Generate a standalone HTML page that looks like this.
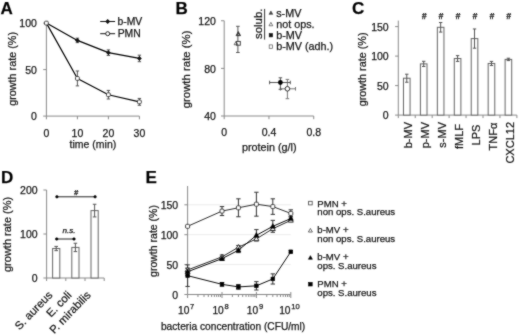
<!DOCTYPE html>
<html><head><meta charset="utf-8"><style>
html,body{margin:0;padding:0;background:#fff;}
body{width:520px;height:335px;overflow:hidden;}
svg{display:block;font-family:"Liberation Sans",sans-serif;}
text{stroke:#222;stroke-width:0.25px;}
</style></head><body>
<svg width="520" height="335" viewBox="0 0 520 335">
<defs><filter id="soft" x="0" y="0" width="1" height="1" color-interpolation-filters="sRGB"><feConvolveMatrix order="3" kernelMatrix="1 2 1 2 16 2 1 2 1" divisor="28" edgeMode="duplicate"/></filter></defs>
<g filter="url(#soft)">
<rect width="520" height="335" fill="#fff"/>
<text x="0.60" y="14.40" font-size="17" text-anchor="start" fill="#000" font-weight="bold">A</text>
<line x1="46.40" y1="23.10" x2="46.40" y2="116.10" stroke="#8a8a8a" stroke-width="1"/>
<line x1="46.40" y1="116.10" x2="139.40" y2="116.10" stroke="#8a8a8a" stroke-width="1"/>
<line x1="43.20" y1="116.10" x2="46.40" y2="116.10" stroke="#8a8a8a" stroke-width="1"/>
<text x="36.90" y="120.40" font-size="10.5" text-anchor="end" fill="#111">0</text>
<line x1="43.20" y1="69.60" x2="46.40" y2="69.60" stroke="#8a8a8a" stroke-width="1"/>
<text x="36.90" y="73.90" font-size="10.5" text-anchor="end" fill="#111">50</text>
<line x1="43.20" y1="23.10" x2="46.40" y2="23.10" stroke="#8a8a8a" stroke-width="1"/>
<text x="36.90" y="27.40" font-size="10.5" text-anchor="end" fill="#111">100</text>
<line x1="46.40" y1="116.10" x2="46.40" y2="119.30" stroke="#8a8a8a" stroke-width="1"/>
<text x="46.40" y="137.00" font-size="10.5" text-anchor="middle" fill="#111">0</text>
<line x1="77.40" y1="116.10" x2="77.40" y2="119.30" stroke="#8a8a8a" stroke-width="1"/>
<text x="77.40" y="137.00" font-size="10.5" text-anchor="middle" fill="#111">10</text>
<line x1="108.40" y1="116.10" x2="108.40" y2="119.30" stroke="#8a8a8a" stroke-width="1"/>
<text x="108.40" y="137.00" font-size="10.5" text-anchor="middle" fill="#111">20</text>
<line x1="139.40" y1="116.10" x2="139.40" y2="119.30" stroke="#8a8a8a" stroke-width="1"/>
<text x="139.40" y="137.00" font-size="10.5" text-anchor="middle" fill="#111">30</text>
<text x="92.90" y="148.30" font-size="10.5" text-anchor="middle" fill="#111">time (min)</text>
<text transform="translate(16.40,68.90) rotate(-90)" font-size="10.8" text-anchor="middle" fill="#111">growth rate (%)</text>
<polyline points="46.40,23.10 77.40,40.40 108.40,52.67 139.40,58.44" fill="none" stroke="#000" stroke-width="1.2" stroke-linejoin="round"/>
<polyline points="46.40,23.10 77.40,78.44 108.40,94.71 139.40,101.87" fill="none" stroke="#000" stroke-width="1.2" stroke-linejoin="round"/>
<line x1="77.40" y1="38.17" x2="77.40" y2="42.63" stroke="#555" stroke-width="1"/>
<line x1="75.70" y1="38.17" x2="79.10" y2="38.17" stroke="#555" stroke-width="1"/>
<line x1="75.70" y1="42.63" x2="79.10" y2="42.63" stroke="#555" stroke-width="1"/>
<line x1="108.40" y1="49.88" x2="108.40" y2="55.46" stroke="#555" stroke-width="1"/>
<line x1="106.70" y1="49.88" x2="110.10" y2="49.88" stroke="#555" stroke-width="1"/>
<line x1="106.70" y1="55.46" x2="110.10" y2="55.46" stroke="#555" stroke-width="1"/>
<line x1="139.40" y1="55.18" x2="139.40" y2="61.69" stroke="#555" stroke-width="1"/>
<line x1="137.70" y1="55.18" x2="141.10" y2="55.18" stroke="#555" stroke-width="1"/>
<line x1="137.70" y1="61.69" x2="141.10" y2="61.69" stroke="#555" stroke-width="1"/>
<line x1="77.40" y1="70.99" x2="77.40" y2="85.88" stroke="#555" stroke-width="1"/>
<line x1="75.70" y1="70.99" x2="79.10" y2="70.99" stroke="#555" stroke-width="1"/>
<line x1="75.70" y1="85.88" x2="79.10" y2="85.88" stroke="#555" stroke-width="1"/>
<line x1="108.40" y1="90.43" x2="108.40" y2="98.99" stroke="#555" stroke-width="1"/>
<line x1="106.70" y1="90.43" x2="110.10" y2="90.43" stroke="#555" stroke-width="1"/>
<line x1="106.70" y1="98.99" x2="110.10" y2="98.99" stroke="#555" stroke-width="1"/>
<line x1="139.40" y1="98.43" x2="139.40" y2="105.31" stroke="#555" stroke-width="1"/>
<line x1="137.70" y1="98.43" x2="141.10" y2="98.43" stroke="#555" stroke-width="1"/>
<line x1="137.70" y1="105.31" x2="141.10" y2="105.31" stroke="#555" stroke-width="1"/>
<polygon points="77.40,38.00 79.80,40.40 77.40,42.80 75.00,40.40" fill="#111"/>
<polygon points="108.40,50.27 110.80,52.67 108.40,55.07 106.00,52.67" fill="#111"/>
<polygon points="139.40,56.04 141.80,58.44 139.40,60.84 137.00,58.44" fill="#111"/>
<rect x="44.50" y="21.20" width="3.8" height="3.8" rx="1.0" fill="#fff" stroke="#333" stroke-width="0.9"/>
<rect x="75.50" y="76.53" width="3.8" height="3.8" rx="1.0" fill="#fff" stroke="#333" stroke-width="0.9"/>
<rect x="106.50" y="92.81" width="3.8" height="3.8" rx="1.0" fill="#fff" stroke="#333" stroke-width="0.9"/>
<rect x="137.50" y="99.97" width="3.8" height="3.8" rx="1.0" fill="#fff" stroke="#333" stroke-width="0.9"/>
<line x1="100.20" y1="21.50" x2="115.10" y2="21.50" stroke="#111" stroke-width="1.0"/>
<polygon points="107.70,19.00 110.20,21.50 107.70,24.00 105.20,21.50" fill="#111"/>
<line x1="100.20" y1="33.70" x2="115.10" y2="33.70" stroke="#111" stroke-width="1.0"/>
<circle cx="107.70" cy="33.70" r="2.0" fill="#fff" stroke="#222" stroke-width="1"/>
<text x="117.40" y="25.00" font-size="10.4" text-anchor="start" fill="#111">b-MV</text>
<text x="117.70" y="37.40" font-size="10.4" text-anchor="start" fill="#111">PMN</text>
<text x="175.60" y="14.30" font-size="17" text-anchor="start" fill="#000" font-weight="bold">B</text>
<line x1="224.20" y1="20.75" x2="224.20" y2="116.00" stroke="#8a8a8a" stroke-width="1"/>
<line x1="224.20" y1="116.00" x2="313.72" y2="116.00" stroke="#8a8a8a" stroke-width="1"/>
<line x1="221.00" y1="116.00" x2="224.20" y2="116.00" stroke="#8a8a8a" stroke-width="1"/>
<text x="215.90" y="120.30" font-size="10.5" text-anchor="end" fill="#111">40</text>
<line x1="221.00" y1="68.38" x2="224.20" y2="68.38" stroke="#8a8a8a" stroke-width="1"/>
<text x="215.90" y="72.68" font-size="10.5" text-anchor="end" fill="#111">80</text>
<line x1="221.00" y1="20.75" x2="224.20" y2="20.75" stroke="#8a8a8a" stroke-width="1"/>
<text x="215.90" y="25.05" font-size="10.5" text-anchor="end" fill="#111">120</text>
<line x1="224.20" y1="116.00" x2="224.20" y2="119.20" stroke="#8a8a8a" stroke-width="1"/>
<text x="224.20" y="136.40" font-size="10.5" text-anchor="middle" fill="#111">0</text>
<line x1="268.96" y1="116.00" x2="268.96" y2="119.20" stroke="#8a8a8a" stroke-width="1"/>
<text x="268.96" y="136.40" font-size="10.5" text-anchor="middle" fill="#111">0.4</text>
<line x1="313.72" y1="116.00" x2="313.72" y2="119.20" stroke="#8a8a8a" stroke-width="1"/>
<text x="313.72" y="136.40" font-size="10.5" text-anchor="middle" fill="#111">0.8</text>
<text x="269.20" y="150.60" font-size="10.8" text-anchor="middle" fill="#111">protein (g/l)</text>
<text transform="translate(190.40,69.40) rotate(-90)" font-size="11.4" text-anchor="middle" fill="#111">growth rate (%)</text>
<line x1="237.90" y1="26.30" x2="237.90" y2="52.50" stroke="#555" stroke-width="1"/>
<line x1="236.10" y1="26.30" x2="239.70" y2="26.30" stroke="#555" stroke-width="1"/>
<line x1="236.10" y1="52.50" x2="239.70" y2="52.50" stroke="#555" stroke-width="1"/>
<polygon points="238.30,31.52 240.60,35.66 236.00,35.66" fill="#333" stroke="#333" stroke-width="0.8"/>
<polygon points="238.30,33.70 238.95,34.87 237.65,34.87" fill="#fff" stroke="none" stroke-width="1"/>
<rect x="236.50" y="41.40" width="3.8" height="3.8" fill="#fff" stroke="#333" stroke-width="0.9"/>
<polygon points="236.00,41.35 237.90,44.77 234.10,44.77" fill="none" stroke="#444" stroke-width="0.8"/>
<line x1="280.40" y1="88.80" x2="295.50" y2="88.80" stroke="#777" stroke-width="1"/>
<line x1="280.40" y1="87.00" x2="280.40" y2="90.60" stroke="#777" stroke-width="1"/>
<line x1="295.50" y1="87.00" x2="295.50" y2="90.60" stroke="#777" stroke-width="1"/>
<line x1="287.40" y1="79.40" x2="287.40" y2="98.70" stroke="#777" stroke-width="1"/>
<line x1="285.60" y1="79.40" x2="289.20" y2="79.40" stroke="#777" stroke-width="1"/>
<line x1="285.60" y1="98.70" x2="289.20" y2="98.70" stroke="#777" stroke-width="1"/>
<line x1="269.60" y1="82.50" x2="290.30" y2="82.50" stroke="#555" stroke-width="1"/>
<line x1="269.60" y1="80.70" x2="269.60" y2="84.30" stroke="#555" stroke-width="1"/>
<line x1="290.30" y1="80.70" x2="290.30" y2="84.30" stroke="#555" stroke-width="1"/>
<line x1="280.40" y1="77.80" x2="280.40" y2="89.30" stroke="#555" stroke-width="1"/>
<line x1="278.60" y1="77.80" x2="282.20" y2="77.80" stroke="#555" stroke-width="1"/>
<line x1="278.60" y1="89.30" x2="282.20" y2="89.30" stroke="#555" stroke-width="1"/>
<circle cx="287.40" cy="88.80" r="2.3" fill="#fff" stroke="#333" stroke-width="1"/>
<circle cx="280.40" cy="82.50" r="2.4" fill="#000" stroke="none" stroke-width="1"/>
<text transform="translate(262.40,23.80) rotate(-90)" font-size="11.4" text-anchor="middle" fill="#111">solub.</text>
<line x1="264.60" y1="8.90" x2="264.60" y2="39.60" stroke="#333" stroke-width="1"/>
<polygon points="270.90,10.95 272.80,14.37 269.00,14.37" fill="#444" stroke="#444" stroke-width="0.6"/>
<polygon points="270.90,22.35 272.80,25.77 269.00,25.77" fill="#fff" stroke="#444" stroke-width="0.7"/>
<rect x="269.20" y="33.50" width="3.4" height="3.4" fill="#111" stroke="#111" stroke-width="0.6"/>
<rect x="269.20" y="44.90" width="3.4" height="3.4" fill="#fff" stroke="#555" stroke-width="0.7"/>
<text x="276.20" y="17.00" font-size="10.8" text-anchor="start" fill="#111">s-MV</text>
<text x="276.20" y="28.10" font-size="10.8" text-anchor="start" fill="#111">not ops.</text>
<text x="276.20" y="39.20" font-size="10.8" text-anchor="start" fill="#111">b-MV</text>
<text x="276.20" y="50.30" font-size="10.8" text-anchor="start" fill="#111">b-MV (adh.)</text>
<text x="352.00" y="14.40" font-size="17" text-anchor="start" fill="#000" font-weight="bold">C</text>
<line x1="398.30" y1="20.60" x2="398.30" y2="115.10" stroke="#8a8a8a" stroke-width="1"/>
<line x1="398.30" y1="115.10" x2="516.88" y2="115.10" stroke="#8a8a8a" stroke-width="1"/>
<line x1="395.10" y1="115.10" x2="398.30" y2="115.10" stroke="#8a8a8a" stroke-width="1"/>
<text x="388.70" y="119.40" font-size="10.5" text-anchor="end" fill="#111">0</text>
<line x1="395.10" y1="85.60" x2="398.30" y2="85.60" stroke="#8a8a8a" stroke-width="1"/>
<text x="388.70" y="89.90" font-size="10.5" text-anchor="end" fill="#111">50</text>
<line x1="395.10" y1="56.10" x2="398.30" y2="56.10" stroke="#8a8a8a" stroke-width="1"/>
<text x="388.70" y="60.40" font-size="10.5" text-anchor="end" fill="#111">100</text>
<line x1="395.10" y1="26.60" x2="398.30" y2="26.60" stroke="#8a8a8a" stroke-width="1"/>
<text x="388.70" y="30.90" font-size="10.5" text-anchor="end" fill="#111">150</text>
<line x1="398.30" y1="115.10" x2="398.30" y2="118.10" stroke="#8a8a8a" stroke-width="1"/>
<line x1="415.24" y1="115.10" x2="415.24" y2="118.10" stroke="#8a8a8a" stroke-width="1"/>
<line x1="432.18" y1="115.10" x2="432.18" y2="118.10" stroke="#8a8a8a" stroke-width="1"/>
<line x1="449.12" y1="115.10" x2="449.12" y2="118.10" stroke="#8a8a8a" stroke-width="1"/>
<line x1="466.06" y1="115.10" x2="466.06" y2="118.10" stroke="#8a8a8a" stroke-width="1"/>
<line x1="483.00" y1="115.10" x2="483.00" y2="118.10" stroke="#8a8a8a" stroke-width="1"/>
<line x1="499.94" y1="115.10" x2="499.94" y2="118.10" stroke="#8a8a8a" stroke-width="1"/>
<line x1="516.88" y1="115.10" x2="516.88" y2="118.10" stroke="#8a8a8a" stroke-width="1"/>
<text transform="translate(365.80,69.40) rotate(-90)" font-size="10.8" text-anchor="middle" fill="#111">growth rate (%)</text>
<rect x="403.47" y="78.22" width="6.6" height="36.88" fill="#fff" stroke="#666" stroke-width="1"/>
<line x1="406.77" y1="74.21" x2="406.77" y2="82.24" stroke="#555" stroke-width="1"/>
<line x1="405.07" y1="74.21" x2="408.47" y2="74.21" stroke="#555" stroke-width="1"/>
<line x1="405.07" y1="82.24" x2="408.47" y2="82.24" stroke="#555" stroke-width="1"/>
<text transform="translate(412.07,122.00) rotate(-90)" font-size="11" text-anchor="end" fill="#111">b-MV</text>
<rect x="420.41" y="63.89" width="6.6" height="51.21" fill="#fff" stroke="#666" stroke-width="1"/>
<line x1="423.71" y1="61.29" x2="423.71" y2="66.48" stroke="#555" stroke-width="1"/>
<line x1="422.01" y1="61.29" x2="425.41" y2="61.29" stroke="#555" stroke-width="1"/>
<line x1="422.01" y1="66.48" x2="425.41" y2="66.48" stroke="#555" stroke-width="1"/>
<text transform="translate(429.01,122.00) rotate(-90)" font-size="11" text-anchor="end" fill="#111">p-MV</text>
<text x="424.01" y="18.90" font-size="8.5" text-anchor="middle" fill="#111" font-weight="bold" font-style="italic">#</text>
<rect x="437.35" y="27.31" width="6.6" height="87.79" fill="#fff" stroke="#666" stroke-width="1"/>
<line x1="440.65" y1="22.53" x2="440.65" y2="32.09" stroke="#555" stroke-width="1"/>
<line x1="438.95" y1="22.53" x2="442.35" y2="22.53" stroke="#555" stroke-width="1"/>
<line x1="438.95" y1="32.09" x2="442.35" y2="32.09" stroke="#555" stroke-width="1"/>
<text transform="translate(445.95,122.00) rotate(-90)" font-size="11" text-anchor="end" fill="#111">s-MV</text>
<text x="440.95" y="18.90" font-size="8.5" text-anchor="middle" fill="#111" font-weight="bold" font-style="italic">#</text>
<rect x="454.29" y="58.52" width="6.6" height="56.58" fill="#fff" stroke="#666" stroke-width="1"/>
<line x1="457.59" y1="55.63" x2="457.59" y2="61.41" stroke="#555" stroke-width="1"/>
<line x1="455.89" y1="55.63" x2="459.29" y2="55.63" stroke="#555" stroke-width="1"/>
<line x1="455.89" y1="61.41" x2="459.29" y2="61.41" stroke="#555" stroke-width="1"/>
<text transform="translate(462.89,124.00) rotate(-90)" font-size="11" text-anchor="end" fill="#111">fMLF</text>
<text x="457.89" y="18.90" font-size="8.5" text-anchor="middle" fill="#111" font-weight="bold" font-style="italic">#</text>
<rect x="471.23" y="38.58" width="6.6" height="76.52" fill="#fff" stroke="#666" stroke-width="1"/>
<line x1="474.53" y1="28.96" x2="474.53" y2="48.19" stroke="#555" stroke-width="1"/>
<line x1="472.83" y1="28.96" x2="476.23" y2="28.96" stroke="#555" stroke-width="1"/>
<line x1="472.83" y1="48.19" x2="476.23" y2="48.19" stroke="#555" stroke-width="1"/>
<text transform="translate(479.83,124.60) rotate(-90)" font-size="11" text-anchor="end" fill="#111">LPS</text>
<text x="474.83" y="18.90" font-size="8.5" text-anchor="middle" fill="#111" font-weight="bold" font-style="italic">#</text>
<rect x="488.17" y="63.47" width="6.6" height="51.62" fill="#fff" stroke="#666" stroke-width="1"/>
<line x1="491.47" y1="61.41" x2="491.47" y2="65.54" stroke="#555" stroke-width="1"/>
<line x1="489.77" y1="61.41" x2="493.17" y2="61.41" stroke="#555" stroke-width="1"/>
<line x1="489.77" y1="65.54" x2="493.17" y2="65.54" stroke="#555" stroke-width="1"/>
<text transform="translate(496.77,122.70) rotate(-90)" font-size="11" text-anchor="end" fill="#111">TNFα</text>
<text x="491.77" y="18.90" font-size="8.5" text-anchor="middle" fill="#111" font-weight="bold" font-style="italic">#</text>
<rect x="505.11" y="59.40" width="6.6" height="55.70" fill="#fff" stroke="#666" stroke-width="1"/>
<line x1="508.41" y1="58.22" x2="508.41" y2="60.58" stroke="#555" stroke-width="1"/>
<line x1="506.71" y1="58.22" x2="510.11" y2="58.22" stroke="#555" stroke-width="1"/>
<line x1="506.71" y1="60.58" x2="510.11" y2="60.58" stroke="#555" stroke-width="1"/>
<text transform="translate(513.71,122.00) rotate(-90)" font-size="11" text-anchor="end" fill="#111">CXCL12</text>
<text x="508.71" y="18.90" font-size="8.5" text-anchor="middle" fill="#111" font-weight="bold" font-style="italic">#</text>
<text x="1.00" y="182.70" font-size="17" text-anchor="start" fill="#000" font-weight="bold">D</text>
<line x1="46.60" y1="190.00" x2="46.60" y2="278.00" stroke="#8a8a8a" stroke-width="1"/>
<line x1="46.60" y1="278.00" x2="104.20" y2="278.00" stroke="#8a8a8a" stroke-width="1"/>
<line x1="43.40" y1="278.00" x2="46.60" y2="278.00" stroke="#8a8a8a" stroke-width="1"/>
<text x="37.60" y="282.30" font-size="10.5" text-anchor="end" fill="#111">0</text>
<line x1="43.40" y1="234.00" x2="46.60" y2="234.00" stroke="#8a8a8a" stroke-width="1"/>
<text x="37.60" y="238.30" font-size="10.5" text-anchor="end" fill="#111">100</text>
<line x1="43.40" y1="190.00" x2="46.60" y2="190.00" stroke="#8a8a8a" stroke-width="1"/>
<text x="37.60" y="194.30" font-size="10.5" text-anchor="end" fill="#111">200</text>
<line x1="46.60" y1="278.00" x2="46.60" y2="281.00" stroke="#8a8a8a" stroke-width="1"/>
<line x1="65.80" y1="278.00" x2="65.80" y2="281.00" stroke="#8a8a8a" stroke-width="1"/>
<line x1="85.00" y1="278.00" x2="85.00" y2="281.00" stroke="#8a8a8a" stroke-width="1"/>
<line x1="104.20" y1="278.00" x2="104.20" y2="281.00" stroke="#8a8a8a" stroke-width="1"/>
<text transform="translate(11.40,234.40) rotate(-90)" font-size="11.0" text-anchor="middle" fill="#111">growth rate (%)</text>
<rect x="52.60" y="248.52" width="7.2" height="29.48" fill="#fff" stroke="#666" stroke-width="1"/>
<line x1="56.20" y1="246.41" x2="56.20" y2="250.63" stroke="#555" stroke-width="1"/>
<line x1="54.40" y1="246.41" x2="58.00" y2="246.41" stroke="#555" stroke-width="1"/>
<line x1="54.40" y1="250.63" x2="58.00" y2="250.63" stroke="#555" stroke-width="1"/>
<text transform="translate(53.10,295.60) rotate(-46)" font-size="11.3" text-anchor="end" fill="#111">S. aureus</text>
<rect x="71.80" y="247.42" width="7.2" height="30.58" fill="#fff" stroke="#666" stroke-width="1"/>
<line x1="75.40" y1="243.24" x2="75.40" y2="251.60" stroke="#555" stroke-width="1"/>
<line x1="73.60" y1="243.24" x2="77.20" y2="243.24" stroke="#555" stroke-width="1"/>
<line x1="73.60" y1="251.60" x2="77.20" y2="251.60" stroke="#555" stroke-width="1"/>
<text transform="translate(72.30,295.60) rotate(-46)" font-size="11.3" text-anchor="end" fill="#111">E. coli</text>
<rect x="91.00" y="210.59" width="7.2" height="67.41" fill="#fff" stroke="#666" stroke-width="1"/>
<line x1="94.60" y1="204.26" x2="94.60" y2="216.93" stroke="#555" stroke-width="1"/>
<line x1="92.80" y1="204.26" x2="96.40" y2="204.26" stroke="#555" stroke-width="1"/>
<line x1="92.80" y1="216.93" x2="96.40" y2="216.93" stroke="#555" stroke-width="1"/>
<text transform="translate(91.50,295.60) rotate(-46)" font-size="11.3" text-anchor="end" fill="#111">P. mirabilis</text>
<line x1="56.90" y1="196.80" x2="95.10" y2="196.80" stroke="#222" stroke-width="1.0"/>
<circle cx="56.90" cy="196.80" r="1.3" fill="#000" stroke="#000" stroke-width="0.5"/>
<circle cx="95.10" cy="196.80" r="1.3" fill="#000" stroke="#000" stroke-width="0.5"/>
<text x="76.00" y="194.60" font-size="7.5" text-anchor="middle" fill="#111" font-weight="bold" font-style="italic">#</text>
<line x1="56.70" y1="239.00" x2="74.00" y2="239.00" stroke="#222" stroke-width="1.0"/>
<circle cx="56.70" cy="239.00" r="1.3" fill="#000" stroke="#000" stroke-width="0.5"/>
<circle cx="74.00" cy="239.00" r="1.3" fill="#000" stroke="#000" stroke-width="0.5"/>
<text x="68.90" y="232.50" font-size="8.1" text-anchor="middle" fill="#000" font-style="italic">n.s.</text>
<text x="145.60" y="182.50" font-size="17" text-anchor="start" fill="#000" font-weight="bold">E</text>
<line x1="187.60" y1="264.60" x2="290.80" y2="264.60" stroke="#ececec" stroke-width="1"/>
<line x1="187.60" y1="234.70" x2="290.80" y2="234.70" stroke="#ececec" stroke-width="1"/>
<line x1="187.60" y1="204.80" x2="290.80" y2="204.80" stroke="#ececec" stroke-width="1"/>
<line x1="187.60" y1="186.00" x2="187.60" y2="294.50" stroke="#8a8a8a" stroke-width="1"/>
<line x1="187.60" y1="294.50" x2="290.80" y2="294.50" stroke="#8a8a8a" stroke-width="1"/>
<line x1="184.40" y1="294.50" x2="187.60" y2="294.50" stroke="#8a8a8a" stroke-width="1"/>
<text x="178.20" y="299.00" font-size="10.5" text-anchor="end" fill="#111">0</text>
<line x1="184.40" y1="264.60" x2="187.60" y2="264.60" stroke="#8a8a8a" stroke-width="1"/>
<text x="178.20" y="269.10" font-size="10.5" text-anchor="end" fill="#111">50</text>
<line x1="184.40" y1="234.70" x2="187.60" y2="234.70" stroke="#8a8a8a" stroke-width="1"/>
<text x="178.20" y="239.20" font-size="10.5" text-anchor="end" fill="#111">100</text>
<line x1="184.40" y1="204.80" x2="187.60" y2="204.80" stroke="#8a8a8a" stroke-width="1"/>
<text x="178.20" y="209.30" font-size="10.5" text-anchor="end" fill="#111">150</text>
<line x1="187.60" y1="294.50" x2="187.60" y2="298.00" stroke="#8a8a8a" stroke-width="1"/>
<line x1="197.96" y1="294.50" x2="197.96" y2="297.00" stroke="#8a8a8a" stroke-width="1"/>
<line x1="204.01" y1="294.50" x2="204.01" y2="297.00" stroke="#8a8a8a" stroke-width="1"/>
<line x1="208.31" y1="294.50" x2="208.31" y2="297.00" stroke="#8a8a8a" stroke-width="1"/>
<line x1="211.64" y1="294.50" x2="211.64" y2="297.00" stroke="#8a8a8a" stroke-width="1"/>
<line x1="214.37" y1="294.50" x2="214.37" y2="297.00" stroke="#8a8a8a" stroke-width="1"/>
<line x1="216.67" y1="294.50" x2="216.67" y2="297.00" stroke="#8a8a8a" stroke-width="1"/>
<line x1="218.67" y1="294.50" x2="218.67" y2="297.00" stroke="#8a8a8a" stroke-width="1"/>
<line x1="220.43" y1="294.50" x2="220.43" y2="297.00" stroke="#8a8a8a" stroke-width="1"/>
<text x="186.20" y="314.0" font-size="10.2" text-anchor="middle" fill="#111">10<tspan font-size="7.6" dx="0.7" dy="-4.6">7</tspan></text>
<line x1="222.00" y1="292.00" x2="222.00" y2="298.00" stroke="#8a8a8a" stroke-width="1"/>
<line x1="232.36" y1="294.50" x2="232.36" y2="297.00" stroke="#8a8a8a" stroke-width="1"/>
<line x1="238.41" y1="294.50" x2="238.41" y2="297.00" stroke="#8a8a8a" stroke-width="1"/>
<line x1="242.71" y1="294.50" x2="242.71" y2="297.00" stroke="#8a8a8a" stroke-width="1"/>
<line x1="246.04" y1="294.50" x2="246.04" y2="297.00" stroke="#8a8a8a" stroke-width="1"/>
<line x1="248.77" y1="294.50" x2="248.77" y2="297.00" stroke="#8a8a8a" stroke-width="1"/>
<line x1="251.07" y1="294.50" x2="251.07" y2="297.00" stroke="#8a8a8a" stroke-width="1"/>
<line x1="253.07" y1="294.50" x2="253.07" y2="297.00" stroke="#8a8a8a" stroke-width="1"/>
<line x1="254.83" y1="294.50" x2="254.83" y2="297.00" stroke="#8a8a8a" stroke-width="1"/>
<text x="220.60" y="314.0" font-size="10.2" text-anchor="middle" fill="#111">10<tspan font-size="7.6" dx="0.7" dy="-4.6">8</tspan></text>
<line x1="256.40" y1="292.00" x2="256.40" y2="298.00" stroke="#8a8a8a" stroke-width="1"/>
<line x1="266.76" y1="294.50" x2="266.76" y2="297.00" stroke="#8a8a8a" stroke-width="1"/>
<line x1="272.81" y1="294.50" x2="272.81" y2="297.00" stroke="#8a8a8a" stroke-width="1"/>
<line x1="277.11" y1="294.50" x2="277.11" y2="297.00" stroke="#8a8a8a" stroke-width="1"/>
<line x1="280.44" y1="294.50" x2="280.44" y2="297.00" stroke="#8a8a8a" stroke-width="1"/>
<line x1="283.17" y1="294.50" x2="283.17" y2="297.00" stroke="#8a8a8a" stroke-width="1"/>
<line x1="285.47" y1="294.50" x2="285.47" y2="297.00" stroke="#8a8a8a" stroke-width="1"/>
<line x1="287.47" y1="294.50" x2="287.47" y2="297.00" stroke="#8a8a8a" stroke-width="1"/>
<line x1="289.23" y1="294.50" x2="289.23" y2="297.00" stroke="#8a8a8a" stroke-width="1"/>
<text x="255.00" y="314.0" font-size="10.2" text-anchor="middle" fill="#111">10<tspan font-size="7.6" dx="0.7" dy="-4.6">9</tspan></text>
<line x1="290.80" y1="292.00" x2="290.80" y2="298.00" stroke="#8a8a8a" stroke-width="1"/>
<text x="289.40" y="314.0" font-size="10.2" text-anchor="middle" fill="#111">10<tspan font-size="7.6" dx="0.7" dy="-4.6">10</tspan></text>
<text x="160.90" y="329.60" font-size="10.2" text-anchor="start" fill="#111">bacteria concentration (CFU/ml)</text>
<text transform="translate(157.30,241.00) rotate(-90)" font-size="10.5" text-anchor="middle" fill="#111">growth rate (%)</text>
<polyline points="187.60,226.33 222.00,211.08 238.41,207.79 256.40,204.20 272.81,206.59 290.80,213.41" fill="none" stroke="#222" stroke-width="0.95" stroke-linejoin="round"/>
<polyline points="187.60,269.98 222.00,256.83 238.41,247.26 256.40,238.89 272.81,228.72 290.80,220.35" fill="none" stroke="#222" stroke-width="0.95" stroke-linejoin="round"/>
<polyline points="187.60,271.78 222.00,258.62 238.41,250.25 256.40,235.30 272.81,226.33 290.80,218.55" fill="none" stroke="#000" stroke-width="0.95" stroke-linejoin="round"/>
<polyline points="187.60,275.66 222.00,284.33 238.41,286.91 256.40,285.83 272.81,278.95 290.80,251.74" fill="none" stroke="#000" stroke-width="0.95" stroke-linejoin="round"/>
<line x1="187.60" y1="225.43" x2="187.60" y2="227.23" stroke="#333" stroke-width="1"/>
<line x1="185.40" y1="225.43" x2="189.80" y2="225.43" stroke="#333" stroke-width="1"/>
<line x1="185.40" y1="227.23" x2="189.80" y2="227.23" stroke="#333" stroke-width="1"/>
<line x1="222.00" y1="206.59" x2="222.00" y2="215.56" stroke="#333" stroke-width="1"/>
<line x1="219.80" y1="206.59" x2="224.20" y2="206.59" stroke="#333" stroke-width="1"/>
<line x1="219.80" y1="215.56" x2="224.20" y2="215.56" stroke="#333" stroke-width="1"/>
<line x1="238.41" y1="198.82" x2="238.41" y2="216.76" stroke="#333" stroke-width="1"/>
<line x1="236.21" y1="198.82" x2="240.61" y2="198.82" stroke="#333" stroke-width="1"/>
<line x1="236.21" y1="216.76" x2="240.61" y2="216.76" stroke="#333" stroke-width="1"/>
<line x1="256.40" y1="192.24" x2="256.40" y2="216.16" stroke="#333" stroke-width="1"/>
<line x1="254.20" y1="192.24" x2="258.60" y2="192.24" stroke="#333" stroke-width="1"/>
<line x1="254.20" y1="216.16" x2="258.60" y2="216.16" stroke="#333" stroke-width="1"/>
<line x1="272.81" y1="198.82" x2="272.81" y2="214.37" stroke="#333" stroke-width="1"/>
<line x1="270.61" y1="198.82" x2="275.01" y2="198.82" stroke="#333" stroke-width="1"/>
<line x1="270.61" y1="214.37" x2="275.01" y2="214.37" stroke="#333" stroke-width="1"/>
<line x1="290.80" y1="209.82" x2="290.80" y2="217.00" stroke="#333" stroke-width="1"/>
<line x1="288.60" y1="209.82" x2="293.00" y2="209.82" stroke="#333" stroke-width="1"/>
<line x1="288.60" y1="217.00" x2="293.00" y2="217.00" stroke="#333" stroke-width="1"/>
<line x1="187.60" y1="268.19" x2="187.60" y2="271.78" stroke="#333" stroke-width="1"/>
<line x1="185.40" y1="268.19" x2="189.80" y2="268.19" stroke="#333" stroke-width="1"/>
<line x1="185.40" y1="271.78" x2="189.80" y2="271.78" stroke="#333" stroke-width="1"/>
<line x1="222.00" y1="255.03" x2="222.00" y2="258.62" stroke="#333" stroke-width="1"/>
<line x1="219.80" y1="255.03" x2="224.20" y2="255.03" stroke="#333" stroke-width="1"/>
<line x1="219.80" y1="258.62" x2="224.20" y2="258.62" stroke="#333" stroke-width="1"/>
<line x1="238.41" y1="245.46" x2="238.41" y2="249.05" stroke="#333" stroke-width="1"/>
<line x1="236.21" y1="245.46" x2="240.61" y2="245.46" stroke="#333" stroke-width="1"/>
<line x1="236.21" y1="249.05" x2="240.61" y2="249.05" stroke="#333" stroke-width="1"/>
<line x1="256.40" y1="237.69" x2="256.40" y2="240.08" stroke="#333" stroke-width="1"/>
<line x1="254.20" y1="237.69" x2="258.60" y2="237.69" stroke="#333" stroke-width="1"/>
<line x1="254.20" y1="240.08" x2="258.60" y2="240.08" stroke="#333" stroke-width="1"/>
<line x1="272.81" y1="226.93" x2="272.81" y2="230.51" stroke="#333" stroke-width="1"/>
<line x1="270.61" y1="226.93" x2="275.01" y2="226.93" stroke="#333" stroke-width="1"/>
<line x1="270.61" y1="230.51" x2="275.01" y2="230.51" stroke="#333" stroke-width="1"/>
<line x1="290.80" y1="219.15" x2="290.80" y2="221.54" stroke="#333" stroke-width="1"/>
<line x1="288.60" y1="219.15" x2="293.00" y2="219.15" stroke="#333" stroke-width="1"/>
<line x1="288.60" y1="221.54" x2="293.00" y2="221.54" stroke="#333" stroke-width="1"/>
<line x1="187.60" y1="268.19" x2="187.60" y2="275.36" stroke="#333" stroke-width="1"/>
<line x1="185.40" y1="268.19" x2="189.80" y2="268.19" stroke="#333" stroke-width="1"/>
<line x1="185.40" y1="275.36" x2="189.80" y2="275.36" stroke="#333" stroke-width="1"/>
<line x1="222.00" y1="256.83" x2="222.00" y2="260.41" stroke="#333" stroke-width="1"/>
<line x1="219.80" y1="256.83" x2="224.20" y2="256.83" stroke="#333" stroke-width="1"/>
<line x1="219.80" y1="260.41" x2="224.20" y2="260.41" stroke="#333" stroke-width="1"/>
<line x1="238.41" y1="247.86" x2="238.41" y2="252.64" stroke="#333" stroke-width="1"/>
<line x1="236.21" y1="247.86" x2="240.61" y2="247.86" stroke="#333" stroke-width="1"/>
<line x1="236.21" y1="252.64" x2="240.61" y2="252.64" stroke="#333" stroke-width="1"/>
<line x1="256.40" y1="229.62" x2="256.40" y2="240.98" stroke="#333" stroke-width="1"/>
<line x1="254.20" y1="229.62" x2="258.60" y2="229.62" stroke="#333" stroke-width="1"/>
<line x1="254.20" y1="240.98" x2="258.60" y2="240.98" stroke="#333" stroke-width="1"/>
<line x1="272.81" y1="220.35" x2="272.81" y2="232.31" stroke="#333" stroke-width="1"/>
<line x1="270.61" y1="220.35" x2="275.01" y2="220.35" stroke="#333" stroke-width="1"/>
<line x1="270.61" y1="232.31" x2="275.01" y2="232.31" stroke="#333" stroke-width="1"/>
<line x1="290.80" y1="216.16" x2="290.80" y2="220.95" stroke="#333" stroke-width="1"/>
<line x1="288.60" y1="216.16" x2="293.00" y2="216.16" stroke="#333" stroke-width="1"/>
<line x1="288.60" y1="220.95" x2="293.00" y2="220.95" stroke="#333" stroke-width="1"/>
<line x1="187.60" y1="264.90" x2="187.60" y2="286.43" stroke="#333" stroke-width="1"/>
<line x1="185.40" y1="264.90" x2="189.80" y2="264.90" stroke="#333" stroke-width="1"/>
<line x1="185.40" y1="286.43" x2="189.80" y2="286.43" stroke="#333" stroke-width="1"/>
<line x1="222.00" y1="282.54" x2="222.00" y2="286.13" stroke="#333" stroke-width="1"/>
<line x1="219.80" y1="282.54" x2="224.20" y2="282.54" stroke="#333" stroke-width="1"/>
<line x1="219.80" y1="286.13" x2="224.20" y2="286.13" stroke="#333" stroke-width="1"/>
<line x1="238.41" y1="284.51" x2="238.41" y2="289.30" stroke="#333" stroke-width="1"/>
<line x1="236.21" y1="284.51" x2="240.61" y2="284.51" stroke="#333" stroke-width="1"/>
<line x1="236.21" y1="289.30" x2="240.61" y2="289.30" stroke="#333" stroke-width="1"/>
<line x1="256.40" y1="281.64" x2="256.40" y2="290.01" stroke="#333" stroke-width="1"/>
<line x1="254.20" y1="281.64" x2="258.60" y2="281.64" stroke="#333" stroke-width="1"/>
<line x1="254.20" y1="290.01" x2="258.60" y2="290.01" stroke="#333" stroke-width="1"/>
<line x1="272.81" y1="273.87" x2="272.81" y2="284.04" stroke="#333" stroke-width="1"/>
<line x1="270.61" y1="273.87" x2="275.01" y2="273.87" stroke="#333" stroke-width="1"/>
<line x1="270.61" y1="284.04" x2="275.01" y2="284.04" stroke="#333" stroke-width="1"/>
<line x1="290.80" y1="250.55" x2="290.80" y2="252.94" stroke="#333" stroke-width="1"/>
<line x1="288.60" y1="250.55" x2="293.00" y2="250.55" stroke="#333" stroke-width="1"/>
<line x1="288.60" y1="252.94" x2="293.00" y2="252.94" stroke="#333" stroke-width="1"/>
<rect x="185.60" y="224.33" width="4.0" height="4.0" rx="1.0" fill="#fff" stroke="#333" stroke-width="0.9"/>
<rect x="220.00" y="209.08" width="4.0" height="4.0" rx="1.0" fill="#fff" stroke="#333" stroke-width="0.9"/>
<rect x="236.41" y="205.79" width="4.0" height="4.0" rx="1.0" fill="#fff" stroke="#333" stroke-width="0.9"/>
<rect x="254.40" y="202.20" width="4.0" height="4.0" rx="1.0" fill="#fff" stroke="#333" stroke-width="0.9"/>
<rect x="270.81" y="204.59" width="4.0" height="4.0" rx="1.0" fill="#fff" stroke="#333" stroke-width="0.9"/>
<rect x="288.80" y="211.41" width="4.0" height="4.0" rx="1.0" fill="#fff" stroke="#333" stroke-width="0.9"/>
<polygon points="187.60,267.28 190.10,271.78 185.10,271.78" fill="#fff" stroke="#222" stroke-width="0.9"/>
<polygon points="222.00,254.13 224.50,258.63 219.50,258.63" fill="#fff" stroke="#222" stroke-width="0.9"/>
<polygon points="238.41,244.56 240.91,249.06 235.91,249.06" fill="#fff" stroke="#222" stroke-width="0.9"/>
<polygon points="256.40,236.19 258.90,240.69 253.90,240.69" fill="#fff" stroke="#222" stroke-width="0.9"/>
<polygon points="272.81,226.02 275.31,230.52 270.31,230.52" fill="#fff" stroke="#222" stroke-width="0.9"/>
<polygon points="290.80,217.65 293.30,222.15 288.30,222.15" fill="#fff" stroke="#222" stroke-width="0.9"/>
<polygon points="187.60,269.08 190.10,273.58 185.10,273.58" fill="#000" stroke="#000" stroke-width="0.6"/>
<polygon points="222.00,255.92 224.50,260.42 219.50,260.42" fill="#000" stroke="#000" stroke-width="0.6"/>
<polygon points="238.41,247.55 240.91,252.05 235.91,252.05" fill="#000" stroke="#000" stroke-width="0.6"/>
<polygon points="256.40,232.60 258.90,237.10 253.90,237.10" fill="#000" stroke="#000" stroke-width="0.6"/>
<polygon points="272.81,223.63 275.31,228.13 270.31,228.13" fill="#000" stroke="#000" stroke-width="0.6"/>
<polygon points="290.80,215.85 293.30,220.35 288.30,220.35" fill="#000" stroke="#000" stroke-width="0.6"/>
<rect x="185.80" y="273.86" width="3.6" height="3.6" fill="#000" stroke="#000" stroke-width="0.6"/>
<rect x="220.20" y="282.53" width="3.6" height="3.6" fill="#000" stroke="#000" stroke-width="0.6"/>
<rect x="236.61" y="285.11" width="3.6" height="3.6" fill="#000" stroke="#000" stroke-width="0.6"/>
<rect x="254.60" y="284.03" width="3.6" height="3.6" fill="#000" stroke="#000" stroke-width="0.6"/>
<rect x="271.01" y="277.15" width="3.6" height="3.6" fill="#000" stroke="#000" stroke-width="0.6"/>
<rect x="289.00" y="249.94" width="3.6" height="3.6" fill="#000" stroke="#000" stroke-width="0.6"/>
<rect x="308.60" y="201.30" width="3.6" height="3.6" fill="#fff" stroke="#444" stroke-width="0.8"/>
<polygon points="310.40,228.44 312.40,232.04 308.40,232.04" fill="#fff" stroke="#444" stroke-width="0.8"/>
<polygon points="310.40,255.64 312.40,259.24 308.40,259.24" fill="#000" stroke="#000" stroke-width="0.6"/>
<rect x="308.60" y="282.40" width="3.6" height="3.6" fill="#000" stroke="#000" stroke-width="0.6"/>
<text x="317.30" y="206.50" font-size="9.6" text-anchor="start" fill="#111">PMN +</text>
<text x="317.30" y="215.40" font-size="9.6" text-anchor="start" fill="#111">non ops. S.aureus</text>
<text x="317.30" y="233.30" font-size="9.6" text-anchor="start" fill="#111">b-MV +</text>
<text x="317.30" y="242.20" font-size="9.6" text-anchor="start" fill="#111">non ops. S.aureus</text>
<text x="317.30" y="260.10" font-size="9.6" text-anchor="start" fill="#111">b-MV +</text>
<text x="317.30" y="269.00" font-size="9.6" text-anchor="start" fill="#111">ops. S.aureus</text>
<text x="317.30" y="286.90" font-size="9.6" text-anchor="start" fill="#111">PMN +</text>
<text x="317.30" y="295.80" font-size="9.6" text-anchor="start" fill="#111">ops. S.aureus</text>
</g>
</svg>
</body></html>
